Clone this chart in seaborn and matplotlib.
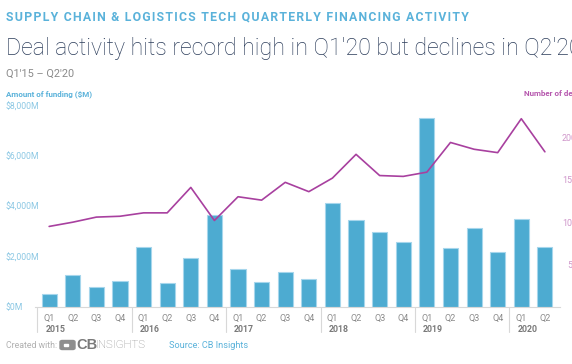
import matplotlib
matplotlib.use("Agg")
import matplotlib.pyplot as plt
import matplotlib.transforms as mtransforms
from matplotlib.patches import FancyBboxPatch, Rectangle
import seaborn as sns
import pandas as pd

quarters = ["Q1", "Q2", "Q3", "Q4"] * 5 + ["Q1", "Q2"]
years = ["2015", "2016", "2017", "2018", "2019", "2020"]
funding = [520, 1270, 790, 1030, 2390, 960, 1950, 3680, 1510, 990, 1390, 1120,
           4130, 3470, 2990, 2590, 7510, 2350, 3150, 2170, 3490, 2390]
deals = [95, 100, 106, 107, 111, 111, 141, 102, 130, 126, 147, 136,
         152, 180, 155, 154, 159, 194, 186, 182, 222, 183]

BAR = "#4dabd1"
LINE = "#a8409f"
BLUE_TXT = "#5ab2da"
GRAY = "#8a8a8a"

df = pd.DataFrame({"pos": range(len(funding)), "funding": funding, "deals": deals})

sns.set_style("white")
plt.rcParams["font.family"] = ["Roboto", "DejaVu Sans"]

W, H = 572, 364
fig = plt.figure(figsize=(W / 100, H / 100), dpi=100)
ax = fig.add_axes([35 / W, 1 - 307 / H, 525 / W, 201 / H])

sns.barplot(data=df, x="pos", y="funding", color=BAR, width=0.64,
            edgecolor="#a6d6ec", linewidth=0.8, saturation=1, ax=ax)
ax.set_ylim(0, 8000)
ax.set_xlim(-0.6, len(funding) - 0.36)
ax.set_xlabel("")
ax.set_ylabel("")
ax.set_xticks(range(len(funding)))
ax.set_xticklabels(quarters, color=GRAY, fontsize=6.5)
ax.tick_params(axis="x", length=0, pad=5)
ax.set_yticks([0, 2000, 4000, 6000, 8000])
ax.set_yticklabels(["$0M", "$2,000M", "$4,000M", "$6,000M", "$8,000M"],
                   color="#8cc8e4", fontsize=6.2, ha="left")
ax.tick_params(axis="y", length=0, pad=21)
for s in ["top", "left", "right"]:
    ax.spines[s].set_visible(False)
ax.spines["bottom"].set_color("#d8d8d8")
ax.spines["bottom"].set_linewidth(0.8)

# deals axis runs off the right edge, as in the original crop
ax2 = ax.twinx()
sns.lineplot(data=df, x="pos", y="deals", color=LINE, linewidth=1.2, ax=ax2)
ax2.set_ylim(0, 237)
ax2.set_xlim(ax.get_xlim())
ax2.set_ylabel("")
ax2.set_yticks([50, 100, 150, 200])
ax2.set_yticklabels(["50", "100", "150", "200"], color="#cf96ca", fontsize=6.4, ha="right")
ax2.tick_params(axis="y", length=0, pad=12.2)
for s in ax2.spines.values():
    s.set_visible(False)

# year groups under the quarter labels
tr = mtransforms.blended_transform_factory(ax.transData, ax.transAxes)
for i, yr in enumerate(years):
    x0 = i * 4 - 0.5
    ax.plot([x0, x0], [0, -0.125], color="#d8d8d8", lw=0.8, transform=tr, clip_on=False)
    ax.text(x0 + 0.34, -0.11, yr, transform=tr, color="#7a7a7a", fontsize=6.3,
            fontweight="bold", ha="left", va="center")

# titles
fig.text(6 / W, 1 - 17 / H, "\u200a".join("SUPPLY CHAIN & LOGISTICS TECH QUARTERLY FINANCING ACTIVITY"),
         color=BLUE_TXT, fontsize=8.85, fontweight="bold", ha="left", va="center")
fig.text(6 / W, 1 - 48 / H, "Deal activity hits record high in Q1'20 but declines in Q2'20",
         color="#2c3d5b", fontsize=16.7, fontweight="light", ha="left", va="center")
fig.text(6 / W, 1 - 74 / H, "Q1'15 \u2013 Q2'20", color="#8a8a8a", fontsize=7.8,
         ha="left", va="center")
fig.text(6 / W, 1 - 94 / H, "Amount of funding ($M)", color=BLUE_TXT, fontsize=5.8,
         fontweight="bold", ha="left", va="center")
fig.text(524 / W, 1 - 94 / H, "Number of deals", color="#b658ae", fontsize=5.8,
         fontweight="bold", ha="left", va="center")

# footer
fig.text(6 / W, 1 - 345 / H, "Created with:", color="#b0b0b0", fontsize=6.3,
         ha="left", va="center")
fig.patches.append(FancyBboxPatch((60 / W, 1 - 349.5 / H), 15 / W, 9 / H,
                                  boxstyle="round,pad=0,rounding_size=0.004",
                                  transform=fig.transFigure, color="#8e8e8e"))
fig.patches.append(Rectangle((64 / W, 1 - 345.5 / H), 4 / W, 1.6 / H,
                             transform=fig.transFigure, color="white"))
fig.text(76 / W, 1 - 345 / H, "CB", color="#7a7a7a", fontsize=10.5,
         fontweight="bold", ha="left", va="center",
         family=["Liberation Sans", "DejaVu Sans"])
fig.text(96 / W, 1 - 345 / H, "INSIGHTS", color="#8a8a8a", fontsize=8.2,
         fontweight="light", ha="left", va="center")
fig.text(169 / W, 1 - 345 / H, "Source: CB Insights", color=BLUE_TXT, fontsize=6.6,
         ha="left", va="center")

fig.savefig("out.png", dpi=100)
